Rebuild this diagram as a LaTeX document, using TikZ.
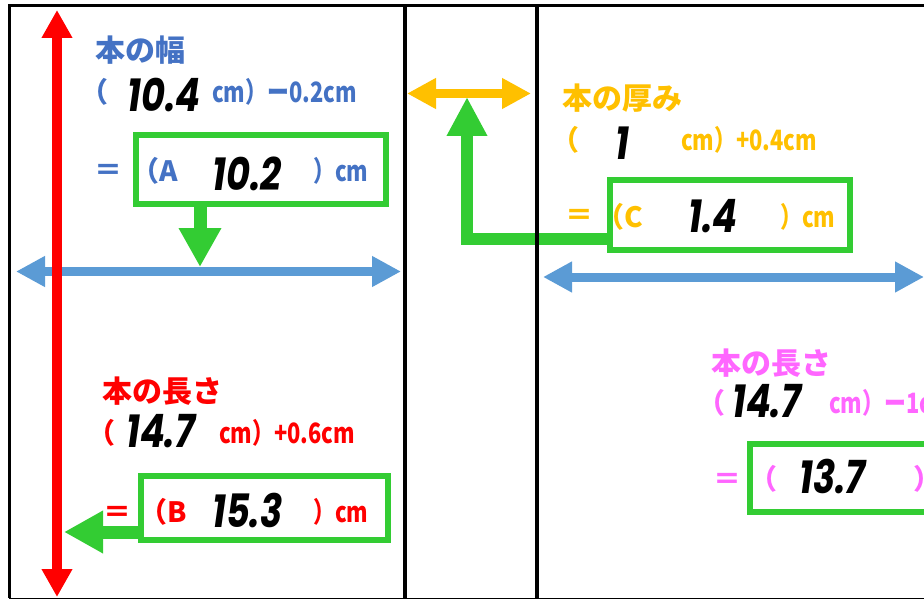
\documentclass[tikz,border=0pt]{standalone}
\usepackage{fontspec}
\newfontfamily\jp{Noto Sans CJK JP}
\newfontfamily\jpc{Noto Sans CJK JP}[FakeStretch=0.78]
\newfontfamily\numfont{Poppins}[FakeStretch=0.8]
\usetikzlibrary{arrows.meta}
\definecolor{tblue}{RGB}{68,114,196}
\definecolor{tred}{RGB}{255,0,0}
\definecolor{torange}{RGB}{255,192,0}
\definecolor{tpink}{RGB}{255,102,255}
\definecolor{ggreen}{RGB}{51,204,51}
\definecolor{abalue}{RGB}{91,155,213}
\begin{document}
\begin{tikzpicture}[x=1pt,y=1pt,
  lbl/.style={font=\jp\bfseries\fontsize{28}{28}\selectfont, inner sep=0pt, anchor=base west},
  lblc/.style={font=\jpc\bfseries\fontsize{28}{28}\selectfont, inner sep=0pt, anchor=base west},
  headlbl/.style={font=\jp\bfseries\fontsize{30}{30}\selectfont, inner sep=0pt, anchor=base west},
  num/.style={font=\numfont\bfseries\itshape\fontsize{46}{46}\selectfont, inner sep=0pt, anchor=base west, text=black},
  gbox/.style={draw=ggreen, line width=6pt, inner sep=0pt},
  frame/.style={draw=black, line width=3.5pt},
  redarr/.style={draw=tred, line width=10pt, {Triangle[length=28pt,width=29pt]}-{Triangle[length=28pt,width=29pt]}},
  bluearr/.style={draw=abalue, line width=9pt, {Triangle[length=29pt,width=29pt]}-{Triangle[length=29pt,width=29pt]}},
  orangearr/.style={draw=torange, line width=9pt, {Triangle[length=29pt,width=29pt]}-{Triangle[length=29pt,width=29pt]}},
  garrow/.style={draw=ggreen, line width=13pt, line join=miter, -{Triangle[length=39pt,width=40pt]}}
]
\useasboundingbox (0,0) rectangle (924,-599);

% boxes
\node[gbox, minimum width=250pt, minimum height=69pt] (boxA) at (261,-169.5) {};
\node[gbox, minimum width=247pt, minimum height=64pt] (boxB) at (264.5,-508) {};
\node[gbox, minimum width=240pt, minimum height=70pt] (boxC) at (730,-215) {};
\node[gbox, minimum width=245pt, minimum height=68pt] (boxD) at (872.5,-478) {};

% green connectors
\coordinate (tipA) at (200,-267);
\draw[garrow] (tipA |- boxA.south) -- (tipA);
\coordinate (tipB) at (64,-532);
\draw[garrow] (tipB -| boxB.west) -- (tipB);
\coordinate (tipC) at (467,-97);
\coordinate (bendC) at (467,-239);
\draw[garrow, line width=12pt, -{Triangle[length=39pt,width=38pt]}] (bendC -| boxC.west) -- (bendC) -- (tipC);

% measuring arrows
\coordinate (bl1) at (16,-271.5);
\coordinate (bl2) at (401,-271.5);
\draw[bluearr] (bl1) -- (bl2);
\coordinate (br1) at (543,-277);
\coordinate (br2) at (924,-277);
\draw[bluearr] (br1) -- (br2);
\coordinate (or1) at (407,-93.5);
\coordinate (or2) at (531,-93.5);
\draw[orangearr] (or1) -- (or2);
\coordinate (rd1) at (57,-10);
\coordinate (rd2) at (57,-597);
\draw[redarr] (rd1) -- (rd2);

% frame lines
\draw[frame] (9.25,-598) -- (9.25,-5.75) -- (924,-5.75);
\draw[line width=1pt] (9.25,-598) -- (924,-598);
\draw[frame] (405,-5.75) -- (405,-599);
\draw[frame] (537,-5.75) -- (537,-599);

% blue texts (width)
\node[headlbl, text=tblue] (wT) at (95,-62) {本の幅};
\node[lbl, text=tblue] (wP) at (80,-103) {（};
\node[num] (wN) at (127,-112) {10.4};
\node[lblc, text=tblue] (wR) at (212,-103) {cm）ー0.2cm};
\node[lbl, text=tblue] (wE) at (94,-180) {＝};
\node[lbl, text=tblue] (wA) at (131,-182) {（A};
\node[num] (wAN) at (212,-190) {10.2};
\node[lblc, text=tblue] (wAR) at (313,-182) {）cm};

% red texts (length)
\node[headlbl, text=tred] (lT) at (102,-402) {本の長さ};
\node[lbl, text=tred] (lP) at (87,-443) {（};
\node[num] (lN) at (126,-447) {14.7};
\node[lblc, text=tred] (lR) at (219,-443) {cm）+0.6cm};
\node[lbl, text=tred] (lE) at (103,-522) {＝};
\node[lbl, text=tred] (lB) at (139,-522) {（B};
\node[num] (lBN) at (212,-527) {15.3};
\node[lblc, text=tred] (lBR) at (313,-522) {）cm};

% orange texts (thickness)
\node[headlbl, text=torange] (tT) at (562,-110) {本の厚み};
\node[lbl, text=torange] (tP) at (551,-150) {（};
\node[num] (tN) at (615,-160) {1};
\node[lblc, text=torange] (tR) at (681,-150) {cm）+0.4cm};
\node[lbl, text=torange] (tE) at (565,-225) {＝};
\node[lbl, text=torange] (tC) at (596,-227) {（C};
\node[num] (tCN) at (688,-232) {1.4};
\node[lblc, text=torange] (tCR) at (780,-227) {）cm};

% pink texts (length)
\node[headlbl, text=tpink] (pT) at (711,-374) {本の長さ};
\node[lbl, text=tpink] (pP) at (697,-413) {（};
\node[num] (pN) at (732,-417) {14.7};
\node[lblc, text=tpink] (pR) at (829,-413) {cm）ー1cm};
\node[lbl, text=tpink] (pE) at (713,-489) {＝};
\node[lbl, text=tpink] (pQ) at (749,-489) {（};
\node[num] (pDN) at (799,-493) {13.7};
\node[lbl, text=tpink] (pDR) at (913,-489) {）};
\end{tikzpicture}
\end{document}
